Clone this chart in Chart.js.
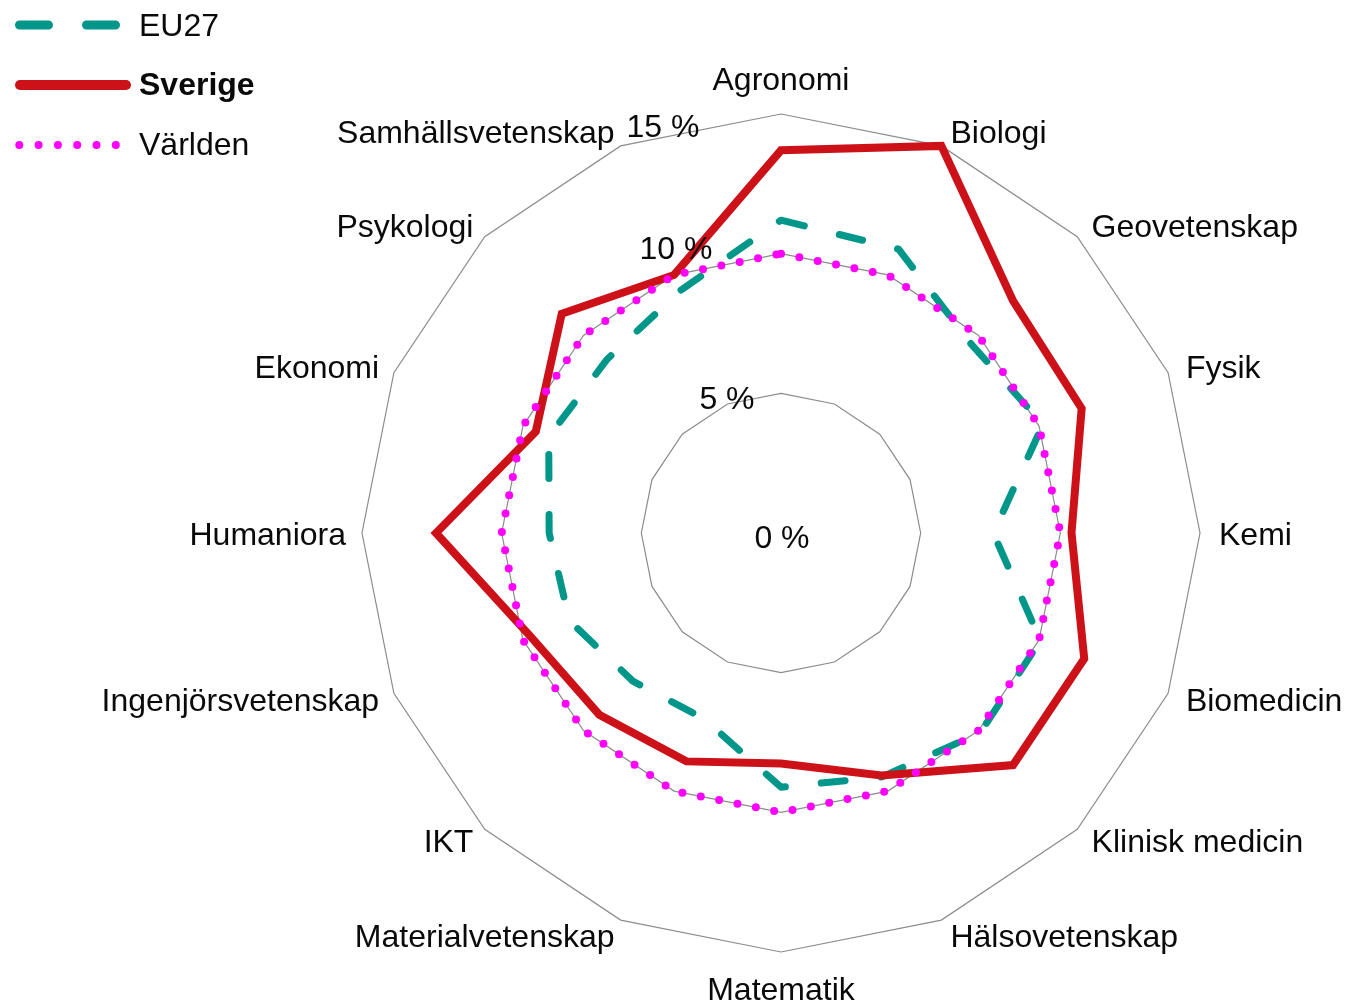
<!DOCTYPE html>
<html>
<head>
<meta charset="utf-8">
<script src="https://cdn.jsdelivr.net/npm/chart.js@4"></script>
<style>
  html, body { margin: 0; padding: 0; background: #ffffff; }
  #wrap { width: 1345px; height: 1006px; position: relative; }
</style>
</head>
<body>
<div id="wrap"><canvas id="c" width="1345" height="1006"></canvas></div>
<script>
// ---- data ----
const categories = [
  'Agronomi', 'Biologi', 'Geovetenskap', 'Fysik', 'Kemi', 'Biomedicin',
  'Klinisk medicin', 'Hälsovetenskap', 'Matematik', 'Materialvetenskap',
  'IKT', 'Ingenjörsvetenskap', 'Humaniora', 'Ekonomi', 'Psykologi', 'Samhällsvetenskap'
];
const eu27    = [11.2, 11.0, 9.6, 10.15, 7.6, 10.05, 10.1, 9.45, 9.1, 7.2, 7.5, 8.2, 8.3, 9.0, 8.8, 9.4];
const sverige = [13.7, 15.0, 11.75, 11.65, 10.4, 11.75, 11.75, 9.4, 8.25, 8.85, 9.2, 9.7, 12.35, 9.5, 11.1, 10.0];
const varlden = [10, 10, 10, 10, 10, 10, 10, 10, 10, 10, 10, 10, 10, 10, 10, 10];
const tickValues = [0, 5, 10, 15];
const tickLabels = ['0 %', '5 %', '10 %', '15 %'];
const seriesNames = ['EU27', 'Sverige', 'Världen'];

// ---- styles ----
const FONT = '"Liberation Sans", Arial, Helvetica, sans-serif';
const FS = 32;
const COL_EU = '#00968A';
const COL_SE = '#CD1119';
const COL_W  = '#FF00FF';
const TEXT = '#0a0a0a';
const TEXT_DY = 3;
// offsets of the percentage labels relative to their ring position on the top axis
const tickOffsets = [[1, 3], [-54, 4], [-105, -6], [-118, 11]];

const overlay = {
  id: 'overlay',
  afterDraw(chart) {
    const scale = chart.scales.r;
    const ctx = chart.ctx;
    const n = categories.length;
    ctx.save();
    ctx.fillStyle = TEXT;
    ctx.font = FS + 'px ' + FONT;
    ctx.textBaseline = 'middle';
    // category labels
    categories.forEach((lab, i) => {
      const p = scale.getPointPosition(i, scale.drawingArea + 16);
      const ang = i * 360 / n;
      let x = p.x, y = p.y + TEXT_DY, align;
      if (ang === 0) { align = 'center'; y -= 20; }
      else if (ang === 180) { align = 'center'; y += 20; }
      else if (ang < 180) { align = 'left'; x += 3; }
      else { align = 'right'; }
      ctx.textAlign = align;
      ctx.fillText(lab, x, y);
    });
    // tick labels
    ctx.textAlign = 'center';
    tickValues.forEach((v, k) => {
      const p = scale.getPointPositionForValue(0, v);
      ctx.fillText(tickLabels[k], p.x + tickOffsets[k][0], p.y + tickOffsets[k][1] + TEXT_DY);
    });
    // legend
    const rows = [25, 85, 145];
    ctx.save();
    ctx.strokeStyle = COL_EU; ctx.lineWidth = 9; ctx.lineCap = 'round';
    ctx.setLineDash([29, 38]);
    ctx.beginPath(); ctx.moveTo(19.5, rows[0]); ctx.lineTo(116, rows[0]); ctx.stroke();
    ctx.restore();
    ctx.save();
    ctx.strokeStyle = COL_SE; ctx.lineWidth = 10; ctx.lineCap = 'round';
    ctx.beginPath(); ctx.moveTo(20, rows[1]); ctx.lineTo(126, rows[1]); ctx.stroke();
    ctx.restore();
    ctx.save();
    ctx.strokeStyle = COL_W; ctx.lineWidth = 8; ctx.lineCap = 'round';
    ctx.setLineDash([0, 19.3]);
    ctx.beginPath(); ctx.moveTo(19.3, rows[2]); ctx.lineTo(117, rows[2]); ctx.stroke();
    ctx.restore();
    ctx.textAlign = 'left';
    ctx.fillStyle = TEXT;
    ctx.font = FS + 'px ' + FONT;
    ctx.fillText(seriesNames[0], 139, rows[0] - 1 + TEXT_DY);
    ctx.font = 'bold ' + FS + 'px ' + FONT;
    ctx.fillText(seriesNames[1], 139, rows[1] - 2 + TEXT_DY);
    ctx.font = FS + 'px ' + FONT;
    ctx.fillText(seriesNames[2], 139, rows[2] - 2 + TEXT_DY);
    ctx.restore();
  }
};

new Chart(document.getElementById('c'), {
  type: 'radar',
  data: {
    labels: categories,
    datasets: [
      { label: seriesNames[0], data: eu27, borderColor: COL_EU, borderWidth: 7,
        borderDash: [24, 36], borderCapStyle: 'round', borderJoinStyle: 'round',
        fill: false, pointRadius: 0, tension: 0, order: 3 },
      { label: seriesNames[1], data: sverige, borderColor: COL_SE, borderWidth: 8,
        borderJoinStyle: 'miter', fill: false, pointRadius: 0, tension: 0, order: 2 },
      { label: seriesNames[2], data: varlden, borderColor: COL_W, borderWidth: 8,
        borderDash: [0, 18.7], borderCapStyle: 'round',
        fill: false, pointRadius: 0, tension: 0, order: 1 }
    ]
  },
  options: {
    responsive: false,
    animation: false,
    events: [],
    layout: { padding: { left: 362, right: 145, top: 114, bottom: 54 } },
    plugins: { legend: { display: false }, tooltip: { enabled: false } },
    scales: {
      r: {
        min: 0, max: 15,
        ticks: { display: false, stepSize: 5 },
        pointLabels: { display: false },
        angleLines: { display: false },
        grid: { color: '#8c8c8c', lineWidth: 1.2, circular: false }
      }
    }
  },
  plugins: [overlay]
});
</script>
</body>
</html>
